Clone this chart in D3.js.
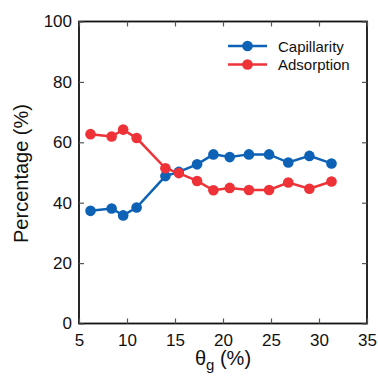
<!DOCTYPE html>
<html>
<head>
<meta charset="utf-8">
<script src="https://cdn.jsdelivr.net/npm/d3@7"></script>
<style>
  body { margin: 0; background: #fff; }
  svg text { font-family: "Liberation Sans", Arial, sans-serif; fill: #111; }
</style>
</head>
<body>
<svg id="chart" width="378" height="376"></svg>
<script>
// data
var thetaG = [6.2, 8.4, 9.6, 11.0, 14.0, 15.4, 17.3, 19.0, 20.7, 22.7, 24.8, 26.8, 29.0, 31.3];
var capillarity = [37.3, 38.1, 35.8, 38.4, 48.8, 50.2, 52.7, 56.0, 55.1, 56.0, 56.0, 53.3, 55.5, 53.0];
var adsorption = [62.7, 61.9, 64.2, 61.4, 51.4, 49.8, 47.2, 44.1, 44.9, 44.2, 44.2, 46.7, 44.6, 47.0];
var xTicks = [5, 10, 15, 20, 25, 30, 35];
var yTicks = [0, 20, 40, 60, 80, 100];

var series = [
  { name: "Capillarity", values: capillarity, color: "#0d62b5" },
  { name: "Adsorption", values: adsorption, color: "#ee3237" }
];

var svg = d3.select("#chart");
// plot box (window.top is reserved, so use own names)
var pLeft = 79, pRight = 367, pTop = 21.5, pBottom = 323.5;

var x = d3.scaleLinear().domain([5, 35]).range([pLeft, pRight]);
var y = d3.scaleLinear().domain([0, 100]).range([pBottom, pTop]);

// frame
svg.append("rect")
  .attr("x", pLeft).attr("y", pTop)
  .attr("width", pRight - pLeft).attr("height", pBottom - pTop)
  .attr("fill", "none").attr("stroke", "#111").attr("stroke-width", 1.8);

var tickLen = 5;
// bottom / left axes with inward ticks
var xAxis = svg.append("g").attr("transform", "translate(0," + pBottom + ")")
  .call(d3.axisBottom(x).tickValues(xTicks).tickSize(-tickLen).tickPadding(10).tickFormat(d3.format("d")));
var yAxis = svg.append("g").attr("transform", "translate(" + pLeft + ",0)")
  .call(d3.axisLeft(y).tickValues(yTicks).tickSize(-tickLen).tickPadding(7).tickFormat(d3.format("d")));
// top / right ticks, no labels
var xTop = svg.append("g").attr("transform", "translate(0," + pTop + ")")
  .call(d3.axisTop(x).tickValues(xTicks).tickSize(-tickLen).tickFormat(""));
var yRight = svg.append("g").attr("transform", "translate(" + pRight + ",0)")
  .call(d3.axisRight(y).tickValues(yTicks).tickSize(-tickLen).tickFormat(""));

[xAxis, yAxis, xTop, yRight].forEach(function (g) {
  g.select(".domain").remove();
  g.selectAll(".tick line").attr("stroke", "#555").attr("stroke-width", 1.2);
  g.selectAll("text").attr("font-size", 17).style("fill", "#111");
});

// lines and markers
var line = d3.line()
  .x(function (d, i) { return x(thetaG[i]); })
  .y(function (d) { return y(d); });

series.forEach(function (s) {
  svg.append("path")
    .datum(s.values)
    .attr("d", line)
    .attr("fill", "none")
    .attr("stroke", s.color)
    .attr("stroke-width", 2.5);
  svg.selectAll(null)
    .data(s.values).enter()
    .append("circle")
    .attr("cx", function (d, i) { return x(thetaG[i]); })
    .attr("cy", function (d) { return y(d); })
    .attr("r", 5.3)
    .attr("fill", s.color);
});

// legend
var legend = svg.append("g");
series.forEach(function (s, i) {
  var ly = 46 + i * 18.5;
  legend.append("line")
    .attr("x1", 228).attr("x2", 267).attr("y1", ly).attr("y2", ly)
    .attr("stroke", s.color).attr("stroke-width", 2.5);
  legend.append("circle").attr("cx", 247.5).attr("cy", ly).attr("r", 5.3).attr("fill", s.color);
  legend.append("text")
    .attr("x", 278).attr("y", ly + 5.5)
    .attr("font-size", 15)
    .text(s.name);
});

// axis titles
svg.append("text")
  .attr("transform", "translate(28," + ((pTop + pBottom) / 2 + 1) + ") rotate(-90)")
  .attr("text-anchor", "middle")
  .attr("font-size", 20)
  .text("Percentage (%)");

var xl = svg.append("text")
  .attr("x", (pLeft + pRight) / 2).attr("y", 365)
  .attr("text-anchor", "middle")
  .attr("font-size", 20);
xl.append("tspan").text("θ");
xl.append("tspan").attr("dy", 5).attr("font-size", 15).text("g");
xl.append("tspan").attr("dy", -5).text(" (%)");
</script>
</body>
</html>
